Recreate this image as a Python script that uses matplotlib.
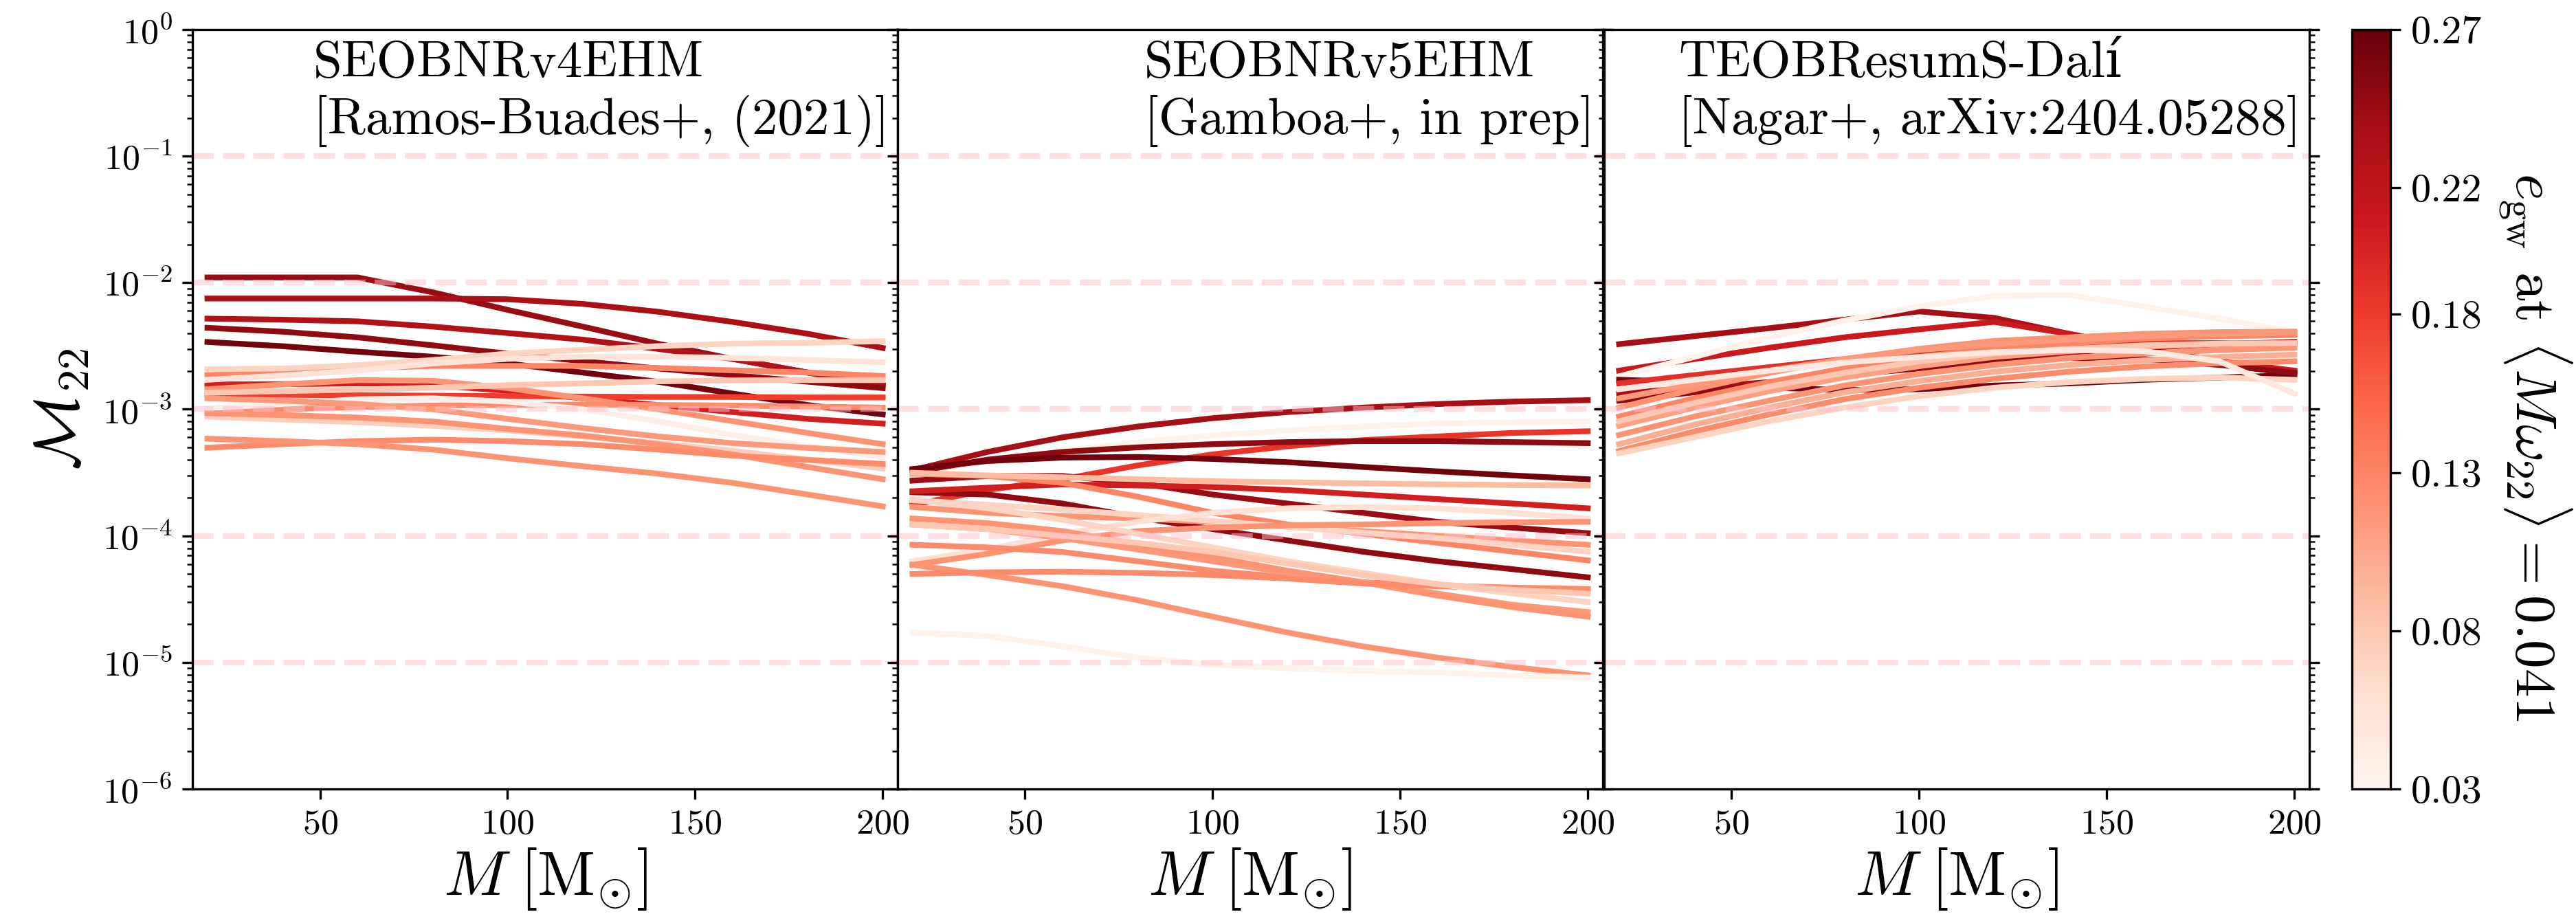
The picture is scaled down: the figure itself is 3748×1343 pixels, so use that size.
import numpy as np
import matplotlib
matplotlib.use("Agg")
import matplotlib.pyplot as plt
from matplotlib import cm, colors
from matplotlib.ticker import LogLocator, NullFormatter

plt.rcParams['font.family'] = ['cmr10', 'DejaVu Serif']
plt.rcParams['mathtext.fontset'] = 'cm'
plt.rcParams['axes.formatter.use_mathtext'] = True

# total mass grid [Msun]
M = [20, 40, 60, 80, 100, 120, 140, 160, 180, 200]

# SEOBNRv4EHM: eccentricity of each case and its mismatch vs M
ecc_v4 = [0.245, 0.235, 0.23, 0.25, 0.265, 0.205, 0.18, 0.13, 0.07, 0.055,
          0.12, 0.08, 0.125, 0.04, 0.075, 0.12, 0.125, 0.12, 0.115]
mm_v4 = [
    [1.1e-2, 1.1e-2, 1.1e-2, 8.4e-3, 6.1e-3, 4.5e-3, 3.3e-3, 2.5e-3, 1.95e-3, 1.55e-3],
    [7.5e-3, 7.5e-3, 7.5e-3, 7.5e-3, 7.4e-3, 6.8e-3, 5.9e-3, 4.9e-3, 3.95e-3, 3.05e-3],
    [5.2e-3, 5.1e-3, 4.95e-3, 4.5e-3, 4.0e-3, 3.55e-3, 3.0e-3, 2.5e-3, 1.95e-3, 1.55e-3],
    [4.4e-3, 4.1e-3, 3.7e-3, 3.2e-3, 2.75e-3, 2.4e-3, 2.1e-3, 1.86e-3, 1.65e-3, 1.47e-3],
    [3.4e-3, 3.15e-3, 2.85e-3, 2.6e-3, 2.3e-3, 1.95e-3, 1.65e-3, 1.33e-3, 1.08e-3, 9.1e-4],
    [1.57e-3, 1.58e-3, 1.6e-3, 1.55e-3, 1.4e-3, 1.22e-3, 1.08e-3, 9.5e-4, 8.4e-4, 7.7e-4],
    [1.3e-3, 1.3e-3, 1.29e-3, 1.28e-3, 1.27e-3, 1.26e-3, 1.25e-3, 1.25e-3, 1.24e-3, 1.24e-3],
    [1.86e-3, 2.0e-3, 2.1e-3, 2.2e-3, 2.2e-3, 2.2e-3, 2.12e-3, 2.03e-3, 1.95e-3, 1.83e-3],
    [2.07e-3, 2.1e-3, 2.23e-3, 2.45e-3, 2.75e-3, 2.95e-3, 3.15e-3, 3.3e-3, 3.35e-3, 3.45e-3],
    [1.71e-3, 1.85e-3, 2.02e-3, 2.3e-3, 2.5e-3, 2.6e-3, 2.6e-3, 2.55e-3, 2.45e-3, 2.35e-3],
    [1.44e-3, 1.57e-3, 1.7e-3, 1.68e-3, 1.47e-3, 1.22e-3, 1.0e-3, 8.05e-4, 6.5e-4, 5.3e-4],
    [1.35e-3, 1.39e-3, 1.43e-3, 1.48e-3, 1.55e-3, 1.6e-3, 1.66e-3, 1.69e-3, 1.7e-3, 1.7e-3],
    [9.5e-4, 1.0e-3, 1.04e-3, 1.07e-3, 1.08e-3, 1.09e-3, 1.08e-3, 1.07e-3, 1.05e-3, 1.03e-3],
    [1.02e-3, 1.1e-3, 1.2e-3, 1.22e-3, 1.15e-3, 1.0e-3, 8.05e-4, 6.26e-4, 5.1e-4, 4.2e-4],
    [8.75e-4, 8.3e-4, 7.9e-4, 7.4e-4, 6.8e-4, 6.1e-4, 5.4e-4, 4.7e-4, 4.0e-4, 3.4e-4],
    [9.3e-4, 9.0e-4, 8.6e-4, 8.0e-4, 7.0e-4, 6.2e-4, 5.3e-4, 4.4e-4, 3.5e-4, 2.8e-4],
    [4.97e-4, 5.3e-4, 5.6e-4, 5.75e-4, 5.6e-4, 5.3e-4, 4.8e-4, 4.3e-4, 3.98e-4, 3.7e-4],
    [5.85e-4, 5.6e-4, 5.3e-4, 4.8e-4, 4.1e-4, 3.55e-4, 3.1e-4, 2.62e-4, 2.12e-4, 1.71e-4],
    [1.22e-3, 1.17e-3, 1.1e-3, 1.0e-3, 8.4e-4, 7.1e-4, 6.1e-4, 5.4e-4, 4.95e-4, 4.6e-4],
]

# SEOBNRv5EHM
ecc_v5 = [0.24, 0.035, 0.185, 0.25, 0.265, 0.245, 0.25, 0.205, 0.12, 0.13, 0.07,
          0.06, 0.12, 0.09, 0.125, 0.115, 0.12, 0.12, 0.125, 0.035, 0.07, 0.08]
mm_v5 = [
    [3.3e-4, 4.6e-4, 6.0e-4, 7.3e-4, 8.5e-4, 9.5e-4, 1.03e-3, 1.1e-3, 1.15e-3, 1.18e-3],
    [3.1e-4, 3.9e-4, 4.7e-4, 5.5e-4, 6.2e-4, 6.8e-4, 7.3e-4, 7.7e-4, 7.9e-4, 8.0e-4],
    [1.76e-4, 2.3e-4, 2.8e-4, 3.6e-4, 4.4e-4, 5.1e-4, 5.7e-4, 6.1e-4, 6.5e-4, 6.7e-4],
    [3.2e-4, 4.0e-4, 4.6e-4, 5.0e-4, 5.3e-4, 5.5e-4, 5.6e-4, 5.6e-4, 5.5e-4, 5.4e-4],
    [3.37e-4, 3.9e-4, 4.15e-4, 4.2e-4, 4.05e-4, 3.82e-4, 3.5e-4, 3.23e-4, 3.0e-4, 2.8e-4],
    [2.73e-4, 2.97e-4, 2.97e-4, 2.62e-4, 2.12e-4, 1.8e-4, 1.52e-4, 1.29e-4, 1.16e-4, 1.05e-4],
    [2.21e-4, 2.12e-4, 1.8e-4, 1.4e-4, 1.13e-4, 9.2e-5, 7.5e-5, 6.3e-5, 5.45e-5, 4.7e-5],
    [2.25e-4, 2.4e-4, 2.55e-4, 2.5e-4, 2.43e-4, 2.3e-4, 2.12e-4, 1.95e-4, 1.8e-4, 1.65e-4],
    [1.69e-4, 1.52e-4, 1.43e-4, 1.37e-4, 1.29e-4, 1.18e-4, 1.09e-4, 1.0e-4, 9.2e-5, 8.5e-5],
    [3.1e-4, 2.97e-4, 2.62e-4, 2.04e-4, 1.52e-4, 1.23e-4, 1.04e-4, 8.8e-5, 7.5e-5, 6.4e-5],
    [1.91e-4, 1.76e-4, 1.62e-4, 1.46e-4, 1.31e-4, 1.18e-4, 1.06e-4, 9.6e-5, 8.5e-5, 7.5e-5],
    [6.3e-5, 7.8e-5, 1.04e-4, 1.29e-4, 1.52e-4, 1.65e-4, 1.69e-4, 1.65e-4, 1.52e-4, 1.37e-4],
    [5.9e-5, 7.2e-5, 9.2e-5, 1.09e-4, 1.16e-4, 1.21e-4, 1.23e-4, 1.26e-4, 1.28e-4, 1.29e-4],
    [3.15e-4, 3.0e-4, 2.9e-4, 2.8e-4, 2.7e-4, 2.65e-4, 2.6e-4, 2.55e-4, 2.52e-4, 2.5e-4],
    [8.5e-5, 8.1e-5, 7.45e-5, 6.3e-5, 5.3e-5, 4.7e-5, 4.3e-5, 4.05e-5, 3.9e-5, 3.8e-5],
    [1.23e-4, 1.13e-4, 9.6e-5, 7.8e-5, 6.3e-5, 5.1e-5, 4.3e-5, 3.5e-5, 2.85e-5, 2.5e-5],
    [1.37e-4, 1.26e-4, 1.09e-4, 8.6e-5, 6.8e-5, 5.3e-5, 4.3e-5, 3.37e-5, 2.73e-5, 2.3e-5],
    [5.9e-5, 4.9e-5, 4.0e-5, 3.1e-5, 2.3e-5, 1.72e-5, 1.34e-5, 1.09e-5, 9.2e-6, 7.9e-6],
    [5.0e-5, 5.15e-5, 5.2e-5, 5.1e-5, 4.9e-5, 4.6e-5, 4.2e-5, 4.0e-5, 3.85e-5, 3.7e-5],
    [1.72e-5, 1.62e-5, 1.34e-5, 1.09e-5, 9.6e-6, 9.0e-6, 8.6e-6, 8.3e-6, 7.9e-6, 7.6e-6],
    [1.95e-4, 1.65e-4, 1.34e-4, 1.04e-4, 8.1e-5, 6.3e-5, 5.1e-5, 4.15e-5, 3.5e-5, 3.0e-5],
    [1.23e-4, 1.13e-4, 1.0e-4, 8.8e-5, 7.45e-5, 6.05e-5, 4.9e-5, 4.15e-5, 3.74e-5, 3.5e-5],
]

# TEOBResumS-Dali
ecc_teob = [0.24, 0.21, 0.035, 0.265, 0.24, 0.25, 0.19, 0.12, 0.13, 0.11,
            0.12, 0.1, 0.125, 0.07, 0.08, 0.115, 0.05]
mm_teob = [
    [3.27e-3, 3.78e-3, 4.37e-3, 5.1e-3, 5.93e-3, 5.27e-3, 3.94e-3, 3.0e-3, 2.29e-3, 1.9e-3],
    [2.02e-3, 2.49e-3, 3.06e-3, 3.7e-3, 4.28e-3, 4.9e-3, 3.94e-3, 3.0e-3, 2.39e-3, 2.02e-3],
    [1.82e-3, 2.59e-3, 3.7e-3, 5.02e-3, 6.5e-3, 7.85e-3, 8.0e-3, 6.5e-3, 5.2e-3, 4.1e-3],
    [1.71e-3, 1.64e-3, 1.48e-3, 1.42e-3, 1.44e-3, 1.54e-3, 1.6e-3, 1.71e-3, 1.78e-3, 1.86e-3],
    [1.33e-3, 1.48e-3, 1.64e-3, 1.9e-3, 2.24e-3, 2.54e-3, 2.82e-3, 3.06e-3, 3.27e-3, 3.4e-3],
    [1.17e-3, 1.36e-3, 1.57e-3, 1.86e-3, 2.1e-3, 2.34e-3, 2.54e-3, 2.49e-3, 2.24e-3, 1.94e-3],
    [1.6e-3, 1.86e-3, 2.15e-3, 2.49e-3, 2.82e-3, 3.06e-3, 3.27e-3, 3.33e-3, 3.33e-3, 3.27e-3],
    [1.03e-3, 1.44e-3, 1.94e-3, 2.49e-3, 3.0e-3, 3.47e-3, 3.7e-3, 3.94e-3, 4.07e-3, 4.1e-3],
    [8.75e-4, 1.22e-3, 1.64e-3, 2.1e-3, 2.59e-3, 3.0e-3, 3.33e-3, 3.62e-3, 3.78e-3, 3.86e-3],
    [7.4e-4, 1.03e-3, 1.39e-3, 1.78e-3, 2.19e-3, 2.59e-3, 2.88e-3, 3.13e-3, 3.27e-3, 3.33e-3],
    [6.26e-4, 8.75e-4, 1.17e-3, 1.54e-3, 1.9e-3, 2.24e-3, 2.54e-3, 2.76e-3, 2.94e-3, 3.06e-3],
    [5.3e-4, 7.55e-4, 1.03e-3, 1.36e-3, 1.67e-3, 1.98e-3, 2.24e-3, 2.44e-3, 2.59e-3, 2.7e-3],
    [4.68e-4, 6.67e-4, 9.1e-4, 1.2e-3, 1.48e-3, 1.74e-3, 1.98e-3, 2.18e-3, 2.31e-3, 2.39e-3],
    [4.49e-4, 6.0e-4, 8.05e-4, 1.03e-3, 1.27e-3, 1.48e-3, 1.64e-3, 1.74e-3, 1.78e-3, 1.71e-3],
    [8.05e-4, 1.12e-3, 1.51e-3, 1.94e-3, 2.39e-3, 2.76e-3, 3.0e-3, 3.2e-3, 3.3e-3, 3.33e-3],
    [1.22e-3, 1.57e-3, 2.02e-3, 2.49e-3, 2.94e-3, 3.27e-3, 3.55e-3, 3.78e-3, 3.94e-3, 4.02e-3],
    [1.44e-3, 1.71e-3, 2.02e-3, 2.34e-3, 2.59e-3, 2.82e-3, 2.94e-3, 2.88e-3, 2.39e-3, 1.33e-3],
]

labels = [
    "SEOBNRv4EHM\n[Ramos-Buades+, (2021)]",
    "SEOBNRv5EHM\n[Gamboa+, in prep]",
    "TEOBResumS-Dalí\n[Nagar+, arXiv:2404.05288]",
]
cbar_ticks = [0.03, 0.08, 0.13, 0.18, 0.22, 0.27]

cmap = plt.get_cmap('Reds')
norm = colors.Normalize(vmin=0.03, vmax=0.27)

fig = plt.figure(figsize=(3748 / 300, 1343 / 300), dpi=300)
lefts = [0.0747, 0.3484, 0.6227]
axes = [fig.add_axes([l, 0.1452, 0.2738, 0.8228]) for l in lefts]

panels = [(ecc_v4, mm_v4), (ecc_v5, mm_v5), (ecc_teob, mm_teob)]
for i, (ax, (ecc, mm), lab) in enumerate(zip(axes, panels, labels)):
    for e, vals in zip(ecc, mm):
        ax.plot(M, vals, color=cmap(norm(e)), lw=2.0)
    for y in [1e-1, 1e-2, 1e-3, 1e-4, 1e-5]:
        ax.axhline(y, color='pink', ls='--', lw=2.0, alpha=0.5)
    ax.set_yscale('log')
    ax.set_ylim(1e-6, 1)
    ax.set_xlim(16, 204)
    ax.set_xticks([50, 100, 150, 200])
    ax.yaxis.set_major_locator(LogLocator(base=10, numticks=20))
    ax.yaxis.set_minor_locator(LogLocator(base=10, subs=np.arange(2, 10), numticks=20))
    ax.yaxis.set_minor_formatter(NullFormatter())
    ax.yaxis.set_ticks_position('both')
    ax.tick_params(axis='both', which='major', labelsize=12.5)
    ax.set_xlabel(r'$M\;[\mathrm{M}_{\odot}]$', fontsize=22, labelpad=2)
    if i > 0:
        ax.tick_params(labelleft=False)
    ax.text(0.988, 0.985, lab, transform=ax.transAxes, ha='right', va='top',
            multialignment='left', fontsize=18)

axes[0].set_ylabel(r'$\mathcal{M}_{22}$', fontsize=22)

cax = fig.add_axes([0.9130, 0.1452, 0.0150, 0.8228])
sm = cm.ScalarMappable(norm=norm, cmap=cmap)
cb = fig.colorbar(sm, cax=cax, ticks=cbar_ticks)
cb.ax.set_yticklabels([f'{t:.2f}' for t in cbar_ticks])
cb.ax.tick_params(labelsize=14)
cb.set_label(r'$e_{\rm gw}$ at $\langle M\omega_{22}\rangle = 0.041$',
             rotation=270, fontsize=20, labelpad=32)
cb.ax.yaxis.label.set_y(0.45)

fig.savefig('out.png', dpi=300)
